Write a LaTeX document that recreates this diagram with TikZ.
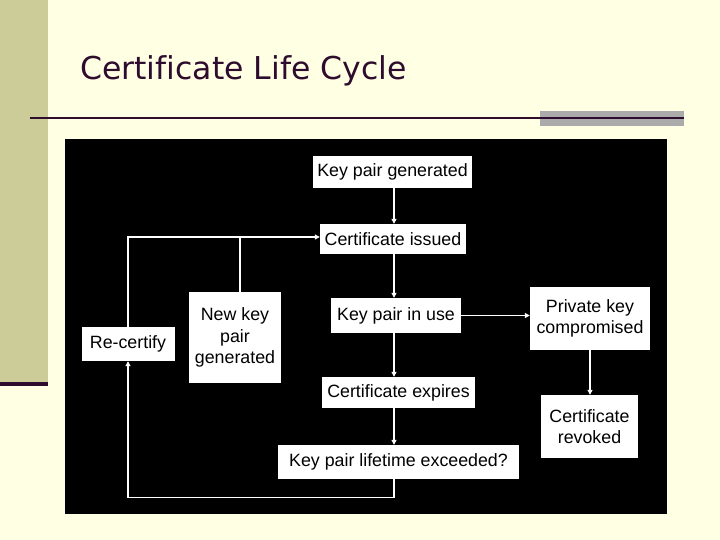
\documentclass[tikz,border=0pt]{standalone}
\usepackage{fontspec}
\setmainfont{Liberation Sans}
\newfontfamily\titlefont[Ligatures=NoCommon]{DejaVu Sans}
\usetikzlibrary{arrows.meta,positioning}
\definecolor{slBack}{HTML}{FFFFE3}
\definecolor{slBand}{HTML}{CCCC99}
\definecolor{slInk}{HTML}{2E0C2E}
\definecolor{slGrey}{HTML}{ABABAB}

\begin{document}
\begin{tikzpicture}[
  x=1pt, y=-1pt,
  >={Triangle[length=5pt,width=5pt]},
  box/.style={
    fill=white,
    text=black,
    align=center,
    inner sep=0pt,
    font=\fontsize{17.8}{21.5}\selectfont
  },
  flow/.style={->, draw=white, line width=1.1pt},
  link/.style={draw=white, line width=1.1pt}
]
  % slide background
  \fill[slBack] (0,0) rectangle (720,540);
  \useasboundingbox (0,0) rectangle (720,540);
  \fill[slBand] (0,0) rectangle (48,382);
  \fill[slInk] (0,382) rectangle (48,386);
  \node[anchor=base west, inner sep=0pt, text=slInk,
        font=\titlefont\fontsize{31.5}{36}\selectfont] (title) at (80,80) {Certificate Life Cycle};
  \fill[slGrey] (540,111) rectangle (684,126);
  \draw[slInk, line width=2.2pt] (30,118) -- (684,118);
  \fill[black] (65,139) rectangle (667,514);

  % states
  \node[box, minimum width=159pt, minimum height=32pt] (gen) at (392.5,172) {Key pair generated};
  \node[box, minimum width=146pt, minimum height=30pt] (issued) at (393,239) {Certificate issued};
  \node[box, minimum width=130pt, minimum height=35pt] (inuse) at (396,315.5) {Key pair in use};
  \node[box, minimum width=153pt, minimum height=31pt] (expires) at (398.5,392.5) {Certificate expires};
  \node[box, minimum width=241pt, minimum height=34pt] (lifetime) at (398.5,462) {Key pair lifetime exceeded?};
  \node[box, minimum width=120pt, minimum height=63pt] (comp) at (590,318.5) {Private key\\compromised};
  \node[box, minimum width=97pt, minimum height=63pt] (revoked) at (589.5,426.5) {Certificate\\revoked};
  \node[box, minimum width=93pt, minimum height=34pt] (recert) at (128,344) {Re-certify};
  \node[box, minimum width=92pt, minimum height=91pt] (newkey) at (235,337.5) {New key\\pair\\generated};

  \coordinate (spine) at (394,0);
  \coordinate (nk) at (240,0);

  % main flow
  \draw[flow] (gen.south -| spine) -- (issued.north -| spine);
  \draw[flow] (issued.south -| spine) -- (inuse.north -| spine);
  \draw[flow] (inuse.south -| spine) -- (expires.north -| spine);
  \draw[flow] (expires.south -| spine) -- (lifetime.north -| spine);
  \draw[flow] (inuse.east) -- (inuse.east -| comp.west);
  \draw[flow] (comp.south) -- (comp.south |- revoked.north);

  % renewal loop
  \draw[flow] (lifetime.south -| spine) -- ++(0,18) -| (recert.south);
  \draw[flow] (recert.north) |- ([yshift=2pt]issued.west);
  \draw[link] (newkey.north -| nk) -- ([yshift=2pt]issued.west -| nk);
\end{tikzpicture}
\end{document}
